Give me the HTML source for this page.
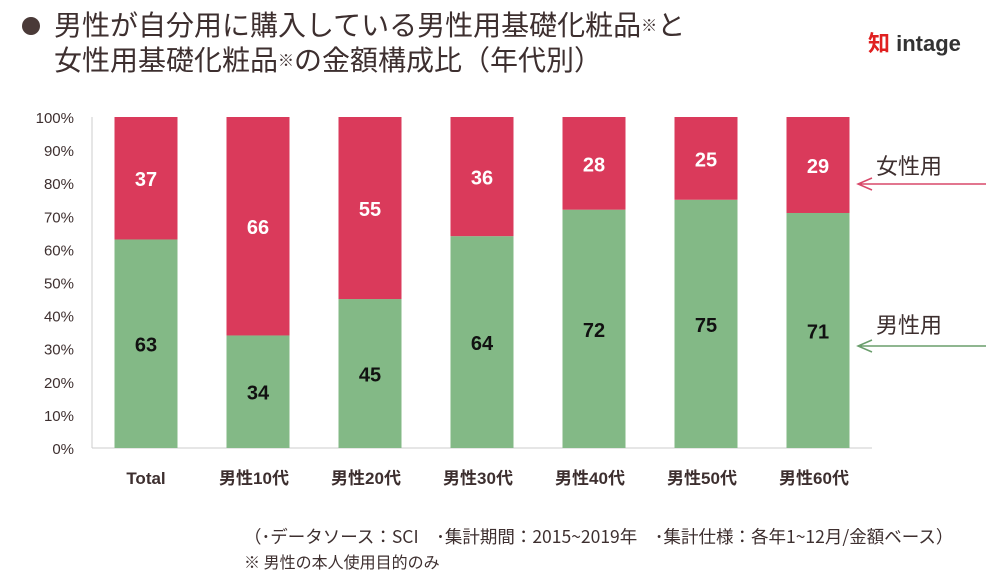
<!DOCTYPE html>
<html><head><meta charset="utf-8"><style>
body{margin:0;background:#fff;font-family:"Liberation Sans","Noto Sans CJK JP",sans-serif;}
#wrap{position:relative;width:1000px;height:583px;overflow:hidden;color:#3d2f2f}
.t{position:absolute;white-space:nowrap}
</style></head><body>
<div id="wrap">
<div class="t" style="left:22px;top:17px;width:18px;height:18px;border-radius:50%;background:#4a3a38"></div>
<div class="t" style="left:54px;top:7px;font-size:28px;line-height:35px;font-family:'Noto Sans CJK JP',sans-serif;color:#3d2f2f">男性が自分用に購入している男性用基礎化粧品<span style="font-size:16px;vertical-align:top">※</span>と<br>女性用基礎化粧品<span style="font-size:16px;vertical-align:top">※</span>の金額構成比（年代別）</div>
<div class="t" style="left:868px;top:26px;font-size:22px;font-weight:bold;color:#333"><span style="color:#e02020;font-family:'Noto Sans CJK JP',sans-serif;font-size:22px">知</span> intage</div>
<svg id="chart" width="1000" height="583" style="position:absolute;left:0;top:0"></svg>
<div class="t" style="left:244px;top:524px;font-size:17.5px;font-family:'Noto Sans CJK JP',sans-serif">（･データソース：SCI　･集計期間：2015~2019年　･集計仕様：各年1~12月/金額ベース）</div>
<div class="t" style="left:244px;top:549px;font-size:16px;font-family:'Noto Sans CJK JP',sans-serif">※ 男性の本人使用目的のみ</div>
</div>
<script>
const categories=["Total","男性10代","男性20代","男性30代","男性40代","男性50代","男性60代"];
const maleValues=[63,34,45,64,72,75,71];
const femaleValues=[37,66,55,36,28,25,29];
const yTicks=[0,10,20,30,40,50,60,70,80,90,100];
const svg=document.getElementById('chart');
const NS='http://www.w3.org/2000/svg';
const y0=448,y1=117,xL=92;
const y=v=>y0-(y0-y1)*v/100;
const xc=i=>146+112*i;
function mk(t,a,p){const e=document.createElementNS(NS,t);for(const k in a)e.setAttribute(k,a[k]);(p||svg).appendChild(e);return e;}
yTicks.forEach(v=>{const t=mk('text',{x:74,y:y(v)+6,'text-anchor':'end','font-size':15,fill:'#3d2f2f'});t.textContent=v+'%';

});
const ax=mk('line',{x1:xL,y1:y1,x2:xL,y2:y0,stroke:'#ccc'});


const bx=mk('line',{x1:xL,y1:y0,x2:872,y2:y0,stroke:'#ccc'});


categories.forEach((c,i)=>{
 const w=63,x=xc(i)-w/2,m=maleValues[i],f=femaleValues[i];
 const r1=mk('rect',{x:x,y:y(m),width:w,height:y0-y(m),fill:'#83b986'});
 
 
 const r2=mk('rect',{x:x,y:y(m+f),width:w,height:y(m)-y(m+f),fill:'#da3a5b'});
 
 
 const t1=mk('text',{x:xc(i),y:(y(m)+y0)/2+8,'text-anchor':'middle','font-size':20,'font-weight':'bold',fill:'#111'});t1.textContent=m;
 
 
 const t2=mk('text',{x:xc(i),y:(y(m)+y(m+f))/2+8,'text-anchor':'middle','font-size':20,'font-weight':'bold',fill:'#fff'});t2.textContent=f;
 
 
 const cl=mk('text',{x:xc(i)-(i?4:0),y:484,'text-anchor':'middle','font-size':17,'font-weight':'bold',fill:'#3d2f2f','font-family':'Liberation Sans, Noto Sans CJK JP, sans-serif'});cl.textContent=c;
 
 
});
function legend(txt,ty,ly,col,n){
 const t=mk('text',{x:876,y:ty,'font-size':22,fill:'#3d2f2f','font-family':'Noto Sans CJK JP, sans-serif'});t.textContent=txt;
 
 
 const g=mk('path',{d:`M986 ${ly} H858 M872 ${ly-6} L858 ${ly} L872 ${ly+6}`,stroke:col,fill:'none','stroke-width':1.5});
 
 
}
legend('女性用',174,184,'#d9486a','female');
legend('男性用',333,346,'#6a9e6c','male');
</script>
</body></html>
